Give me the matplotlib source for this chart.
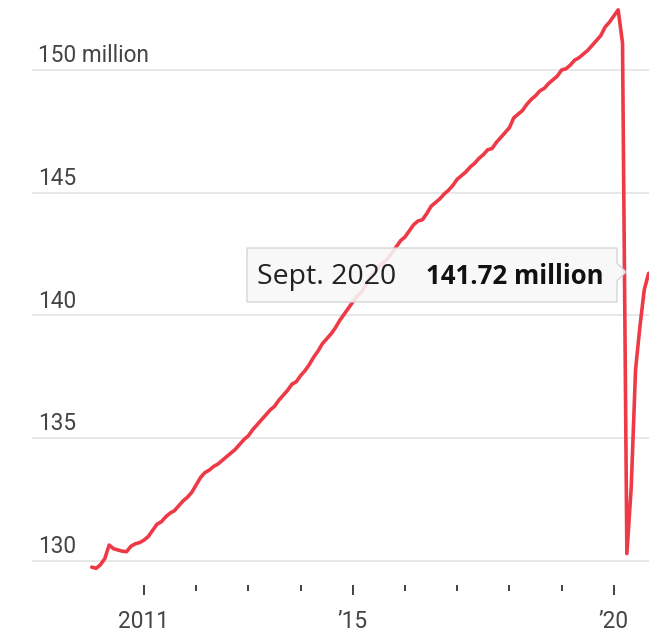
import matplotlib.pyplot as plt
from matplotlib.patches import Polygon
import numpy as np

# Total nonfarm payrolls, millions, monthly Jan 2010 - Sept 2020
payrolls = [
    129.75, 129.70, 129.85, 130.10, 130.65, 130.50, 130.45, 130.40, 130.38, 130.60, 130.70, 130.75,
    130.85, 131.00, 131.25, 131.50, 131.60, 131.80, 131.95, 132.05, 132.25, 132.45, 132.60, 132.80,
    133.10, 133.40, 133.60, 133.70, 133.85, 133.95, 134.10, 134.25, 134.40, 134.55, 134.75, 134.95,
    135.10, 135.35, 135.55, 135.75, 135.95, 136.15, 136.30, 136.55, 136.75, 136.95, 137.20, 137.30,
    137.55, 137.75, 138.00, 138.30, 138.55, 138.85, 139.05, 139.25, 139.50, 139.80, 140.05, 140.30,
    140.55, 140.80, 140.95, 141.25, 141.55, 141.75, 142.00, 142.15, 142.30, 142.55, 142.80, 143.05,
    143.20, 143.45, 143.70, 143.85, 143.90, 144.15, 144.45, 144.60, 144.75, 144.95, 145.10, 145.30,
    145.55, 145.70, 145.85, 146.05, 146.20, 146.40, 146.55, 146.75, 146.80, 147.05, 147.25, 147.45,
    147.65, 148.05, 148.20, 148.35, 148.60, 148.80, 148.95, 149.15, 149.25, 149.45, 149.60, 149.75,
    150.00, 150.05, 150.20, 150.40, 150.50, 150.65, 150.80, 151.00, 151.20, 151.40, 151.75, 151.95,
    152.20, 152.45, 151.10, 130.30, 133.00, 137.80, 139.55, 141.05, 141.72,
]
start_year = 2010
y_ticks = [130, 135, 140, 145, 150]
y_labels = ['130', '135', '140', '145', '150 million']
major_years = [2011, 2015, 2020]
major_labels = ['2011', '\u201915', '\u201920']
minor_years = [2012, 2013, 2014, 2016, 2017, 2018, 2019]
tip_date = 'Sept. 2020'
tip_value = payrolls[-1]

t = start_year + np.arange(len(payrolls)) / 12

W, H = 649, 632
fig = plt.figure(figsize=(W / 100, H / 100), dpi=100)
ax = fig.add_axes([32 / W, (H - 585) / H, 1 - 32 / W, 585 / H])

ax.set_xlim(2008.855, 2020.674)
ax.set_ylim(130 - 24 / 24.55, 130 + 561 / 24.55)

for s in ax.spines.values():
    s.set_visible(False)

for v in y_ticks:
    ax.axhline(v, color='#e3e3e3', lw=1.2, zorder=1)

ax.plot(t, payrolls, color='#ee3a47', lw=2.6, zorder=3,
        solid_joinstyle='round', solid_capstyle='round')

axis_font = ['Roboto', 'DejaVu Sans']

# y labels sit just above their gridlines
for v, lab in zip(y_ticks, y_labels):
    ax.text(6 / (W - 32), v + 0.12, lab, transform=ax.get_yaxis_transform(),
            ha='left', va='bottom', fontsize=16.3, color='#444444', family=axis_font)
ax.set_yticks([])

ax.set_xticks(major_years)
ax.set_xticklabels(major_labels)
ax.set_xticks(minor_years, minor=True)
ax.tick_params(axis='x', which='major', length=7, width=1.3, color='#333333',
               pad=11, labelsize=16.3, labelcolor='#444444')
ax.tick_params(axis='x', which='minor', length=4, width=1.3, color='#333333')
for lab in ax.get_xticklabels():
    lab.set_family(axis_font)

# tooltip box with a pointer toward the last point
def px(x, y):
    return (x / W, 1 - y / H)

box = [px(247, 248), px(617, 248), px(617, 263), px(626, 272), px(617, 281),
       px(617, 302), px(247, 302)]
fig.patches.append(Polygon(box, closed=True, transform=fig.transFigure,
                           facecolor='#f8f8f8', edgecolor='#d0d0d0', lw=1.0,
                           alpha=0.88, zorder=5))
fig.text(257 / W, 1 - 277 / H, tip_date, ha='left', va='center', fontsize=20.5,
         color='#222222', family=['Open Sans', 'DejaVu Sans'], zorder=6)
fig.text(604 / W, 1 - 277 / H, f'{tip_value:.2f} million', ha='right', va='center',
         fontsize=18.5, fontweight='bold', color='#111111',
         family=['Open Sans', 'DejaVu Sans'], zorder=6)

fig.savefig('out.png', dpi=100)
